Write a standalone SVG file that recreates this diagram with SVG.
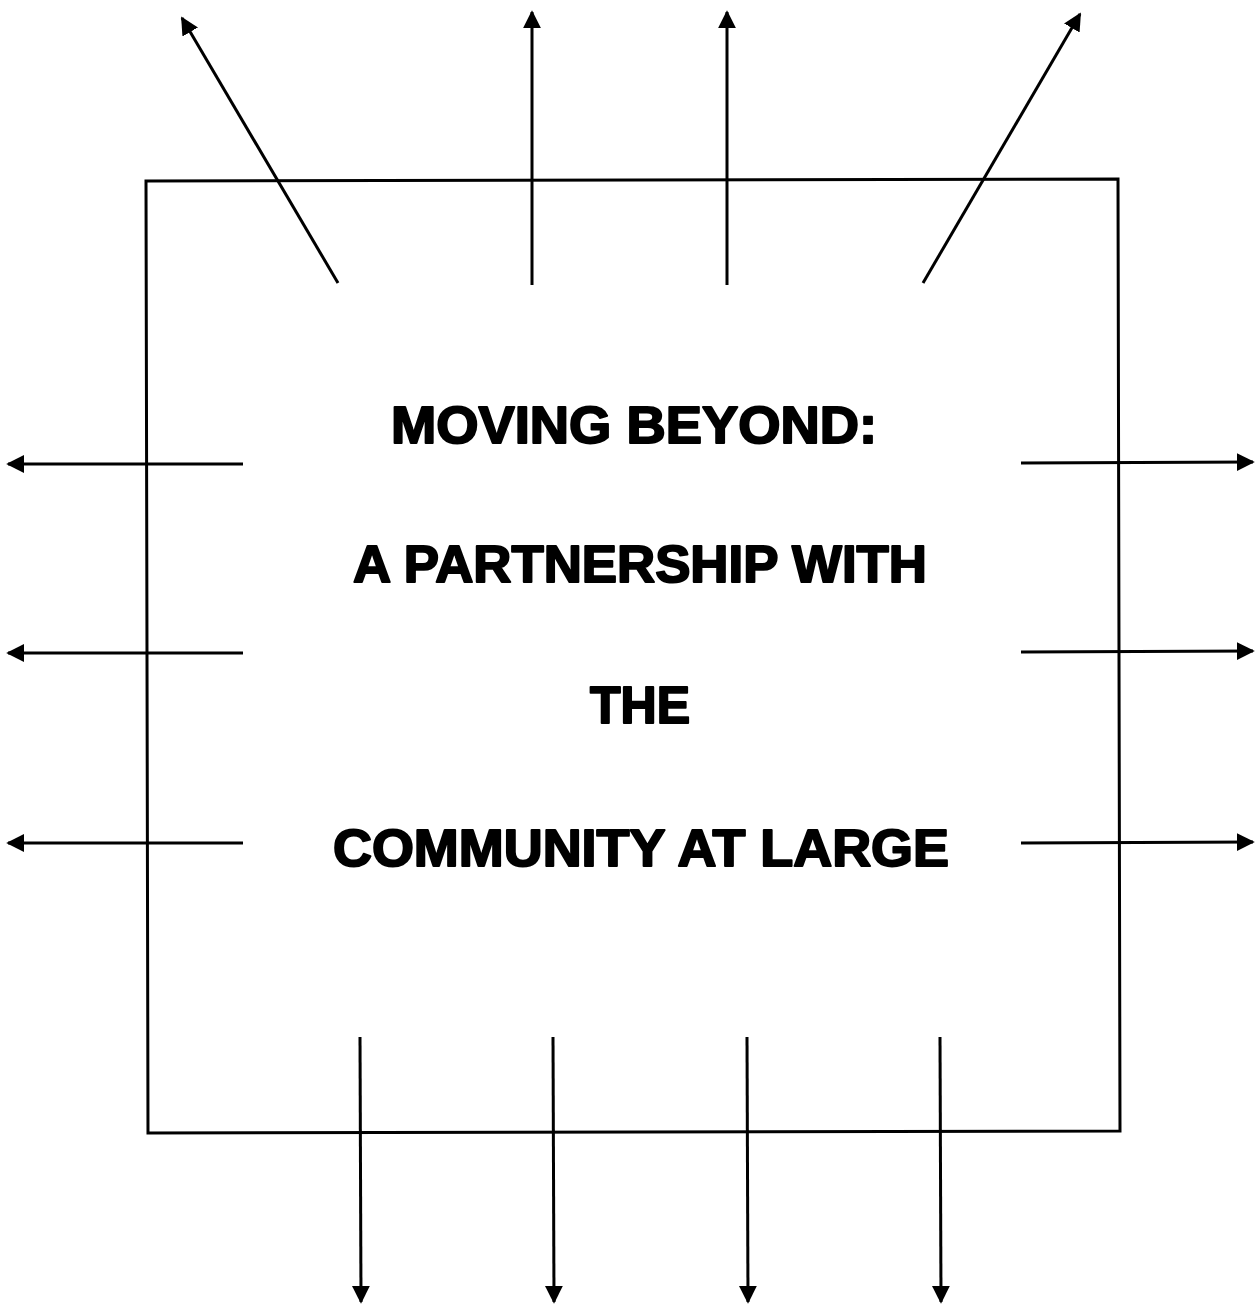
<svg xmlns="http://www.w3.org/2000/svg" width="1256" height="1306" viewBox="0 0 1256 1306">
<style>
.box{fill:none;stroke:#000;stroke-width:3}
.c{stroke:#000;stroke-width:3;fill:none;marker-end:url(#ah)}
.t{font-family:"Liberation Sans",Arial,sans-serif;font-weight:bold;font-size:52px;fill:#000;stroke:#000;stroke-width:2;stroke-linejoin:round;text-anchor:middle}
</style>
<defs>
<marker id="ah" viewBox="0 0 10 10" refX="9" refY="5" markerWidth="6" markerHeight="6" markerUnits="strokeWidth" orient="auto">
<path d="M0,0 L10,5 L0,10 z" fill="#000"/>
</marker>
</defs>
<rect width="1256" height="1306" fill="#fff"/>
<g id="node-box">
<path class="box" d="M146,181 L1118,179 L1120,1131 L148,1133 Z"/>
<text class="t" x="634" y="443" textLength="486" lengthAdjust="spacingAndGlyphs">MOVING BEYOND:</text>
<text class="t" x="640" y="582" textLength="574" lengthAdjust="spacingAndGlyphs">A PARTNERSHIP WITH</text>
<text class="t" x="640" y="723" textLength="100" lengthAdjust="spacingAndGlyphs">THE</text>
<text class="t" x="641" y="866" textLength="616" lengthAdjust="spacingAndGlyphs">COMMUNITY AT LARGE</text>
</g>
<g id="connectors">
<line class="c" x1="338" y1="283" x2="182" y2="18"/>
<line class="c" x1="532" y1="285" x2="532" y2="12"/>
<line class="c" x1="727" y1="285" x2="727" y2="12"/>
<line class="c" x1="923" y1="283" x2="1080" y2="14"/>
<line class="c" x1="243" y1="464" x2="8" y2="464"/>
<line class="c" x1="243" y1="653" x2="8" y2="653"/>
<line class="c" x1="243" y1="843" x2="8" y2="843"/>
<line class="c" x1="1021" y1="463" x2="1253" y2="462"/>
<line class="c" x1="1021" y1="652" x2="1253" y2="651"/>
<line class="c" x1="1021" y1="843" x2="1253" y2="842"/>
<line class="c" x1="360" y1="1037" x2="361" y2="1302"/>
<line class="c" x1="553" y1="1037" x2="554" y2="1302"/>
<line class="c" x1="747" y1="1037" x2="748" y2="1302"/>
<line class="c" x1="940" y1="1037" x2="941" y2="1302"/>
</g>
</svg>
